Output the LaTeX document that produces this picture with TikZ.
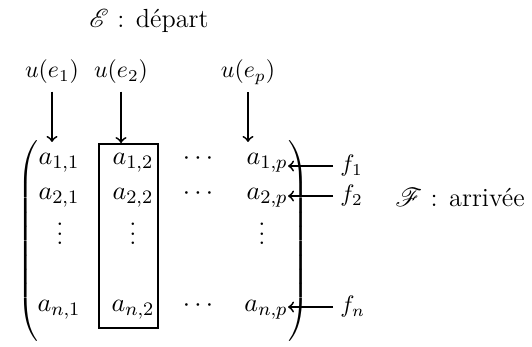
\documentclass[tikz,border=0pt]{standalone}
\usepackage{fontspec}
\usepackage{mathrsfs}
\newcommand\myvdots{\vbox{\baselineskip4pt \lineskiplimit0pt \hbox{.}\hbox{.}\hbox{.}}}
\begin{document}
\begin{tikzpicture}[x=0.42pt,y=-0.42pt,
  lbl/.style={inner sep=0pt,anchor=base},
  big/.style={font=\fontsize{11}{13}\selectfont},
  ent/.style={inner sep=0pt,anchor=base,big},
  arr/.style={->,line width=0.75pt},
  colbox/.style={draw,line width=0.75pt,inner sep=0pt}]
\useasboundingbox (0,0) rectangle (532,347);
% titles
\node[lbl,big] (E) at (149,28) {$\mathscr{E}$ : départ};
\node[lbl,big] (F) at (460,207) {$\mathscr{F}$ : arrivée};
% top labels
\node[lbl] (u1) at (52,78) {$u(e_1)$};
\node[lbl] (u2) at (121,78) {$u(e_2)$};
\node[lbl] (up) at (248,78) {$u(e_p)$};
% entries
\node[ent] (a11) at (59,165) {$a_{1,1}$};
\node[ent] (a21) at (59,200) {$a_{2,1}$};
\node[ent] (v1) at (60,245) {\myvdots};
\node[ent] (an1) at (59,312) {$a_{n,1}$};
\node[ent] (a12) at (133,165) {$a_{1,2}$};
\node[ent] (a22) at (133,200) {$a_{2,2}$};
\node[ent] (v2) at (133,245) {\myvdots};
\node[ent] (an2) at (133,312) {$a_{n,2}$};
\node[ent] (c1) at (198,165) {$\cdots$};
\node[ent] (c2) at (198,200) {$\cdots$};
\node[ent] (cn) at (198,312) {$\cdots$};
\node[ent,anchor=base east] (a1p) at (288,165) {$a_{1,p}$};
\node[ent,anchor=base east] (a2p) at (288,200) {$a_{2,p}$};
\node[ent] (vp) at (262,245) {\myvdots};
\node[ent,anchor=base east] (anp) at (288,312) {$a_{n,p}$};
% parentheses
\node[inner sep=0pt] (lp) at (29,244) {$\left(\rule[-42pt]{0pt}{84pt}\right.$};
\node[inner sep=0pt] (rp) at (297,244) {$\left.\rule[-42pt]{0pt}{84pt}\right)$};
% column box
\node[colbox,minimum width=24.8pt,minimum height=77.3pt] (box) at (128.5,236) {};
% right labels
\node[lbl,anchor=base west] (f1) at (340,172) {$f_1$};
\node[lbl,anchor=base west] (f2) at (340,202) {$f_2$};
\node[lbl,anchor=base west] (fn) at (340,313) {$f_n$};
% arrows
\coordinate (t1) at (52,142);
\draw[arr] ([yshift=-3pt]u1.south) -- (u1.south |- t1);
\draw[arr] ([yshift=-3pt]u2.south) -- (u2.south |- box.north);
\draw[arr] ([yshift=-3pt]up.south) -- (up.south |- t1);
\draw[arr] (f1.west) ++(-7,0) coordinate (s1) -- (s1 -| a1p.east);
\draw[arr] (f2.west) ++(-7,0) coordinate (s2) -- (s2 -| a2p.east);
\draw[arr] (fn.west) ++(-7,0) coordinate (sn) -- (sn -| anp.east);
\end{tikzpicture}
\end{document}
